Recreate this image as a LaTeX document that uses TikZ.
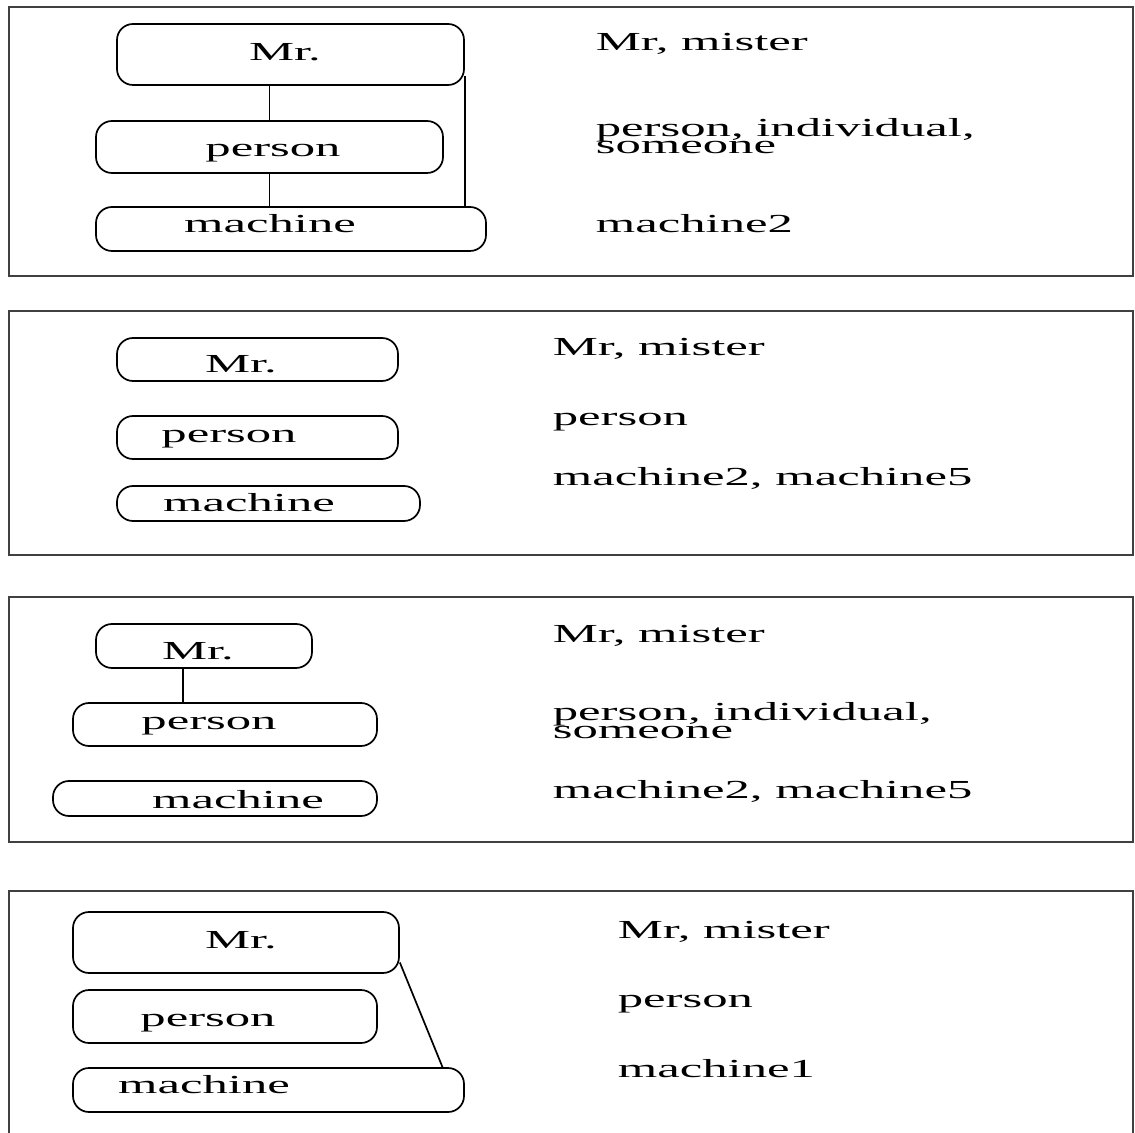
\documentclass[tikz,border=0pt]{standalone}
\usepackage{fontspec}
\usepackage{tikz}
\newfontfamily\figfont[FakeStretch=1.95]{Liberation Serif}

\begin{document}
\begin{tikzpicture}[x=0.5pt, y=-0.5pt, line width=0.85pt,
        box/.style={draw, rounded corners=8pt, inner sep=0pt},
        frame/.style={draw=black!75, line width=0.8pt}]
      \tikzstyle{word} = [font=\figfont\fontsize{13}{16}\selectfont, inner sep=0pt]
      \useasboundingbox (0,0) rectangle (1135,1133);
      % frames
      \draw[frame] (9,7) rectangle (1133,276);
      \draw[frame] (9,311) rectangle (1133,555);
      \draw[frame] (9,597) rectangle (1133,842);
      \draw[frame] (9,1150) -- (9,891) -- (1133,891) -- (1133,1150);

      % first
      \node (mrA) [box, minimum width=173.5pt, minimum height=30.5pt] at (290.5,54.5) {};
      \node (persA) [box, minimum width=173.5pt, minimum height=26pt] at (269.5,147) {};
      \node (machA) [box, minimum width=195pt, minimum height=22pt] at (291,229) {};
      \node (mrAw) [word, anchor=base] at (285,61) {Mr.};
      \node (persAw) [word, anchor=base] at (273,157) {person};
      \node (machAw) [word, anchor=base] at (270,233) {machine};
      \draw (mrA.south -| persA.north) -- (persA.north);
      \draw (persA.south) -- (machA.north -| persA.south);
      \draw ([yshift=-11pt]mrA.east) -- (mrA.east |- machA.north);
      \node (synA1) [word, anchor=base west] at (595,51) {Mr, mister};
      \node (synA2) [word, anchor=base west] at (595,137) {person, individual,};
      \node (synA3) [word, anchor=base west] at (595,154) {someone};
      \node (synA4) [word, anchor=base west] at (595,233) {machine2};

      % second
      \node (mrB) [box, minimum width=140.5pt, minimum height=21.5pt] at (257.5,359.5) {};
      \node (persB) [box, minimum width=140.5pt, minimum height=21.5pt] at (257.5,437.5) {};
      \node (machB) [box, minimum width=151.5pt, minimum height=17.5pt] at (268.5,503.5) {};
      \node (mrBw) [word, anchor=base] at (241,373) {Mr.};
      \node (persBw) [word, anchor=base] at (229,443) {person};
      \node (machBw) [word, anchor=base] at (249,512) {machine};
      \node (synB1) [word, anchor=base west] at (552,356) {Mr, mister};
      \node (synB2) [word, anchor=base west] at (552,426) {person};
      \node (synB3) [word, anchor=base west] at (552,486) {machine2, machine5};

      % third
      \node (mrC) [box, minimum width=108pt, minimum height=22pt] at (204,646) {};
      \node (persC) [box, minimum width=152pt, minimum height=21.5pt] at (225,724.5) {};
      \node (machC) [box, minimum width=162pt, minimum height=17.5pt] at (215,798.5) {};
      \node (mrCw) [word, anchor=base] at (198,660) {Mr.};
      \node (persCw) [word, anchor=base] at (209,729) {person};
      \node (machCw) [word, anchor=base] at (238,808) {machine};
      \draw ([xshift=-10.5pt]mrC.south) -- ([xshift=-10.5pt]mrC.south |- persC.north);
      \node (synC1) [word, anchor=base west] at (552,642) {Mr, mister};
      \node (synC2) [word, anchor=base west] at (552,720) {person, individual,};
      \node (synC3) [word, anchor=base west] at (552,738) {someone};
      \node (synC4) [word, anchor=base west] at (552,798) {machine2, machine5};

      % fourth
      \node (mrD) [box, minimum width=163pt, minimum height=30.5pt] at (236,942.5) {};
      \node (persD) [box, minimum width=152pt, minimum height=26.5pt] at (225,1016.5) {};
      \node (machD) [box, minimum width=195.5pt, minimum height=22pt] at (268.5,1090) {};
      \node (mrDw) [word, anchor=base] at (241,948) {Mr.};
      \node (persDw) [word, anchor=base] at (208,1026) {person};
      \node (machDw) [word, anchor=base] at (204,1093) {machine};
      \draw ([yshift=-10pt]mrD.east) -- ([xshift=87pt]machD.north);
      \node (synD1) [word, anchor=base west] at (617,938) {Mr, mister};
      \node (synD2) [word, anchor=base west] at (617,1007) {person};
      \node (synD3) [word, anchor=base west] at (617,1077) {machine1};
    \end{tikzpicture}
\end{document}
